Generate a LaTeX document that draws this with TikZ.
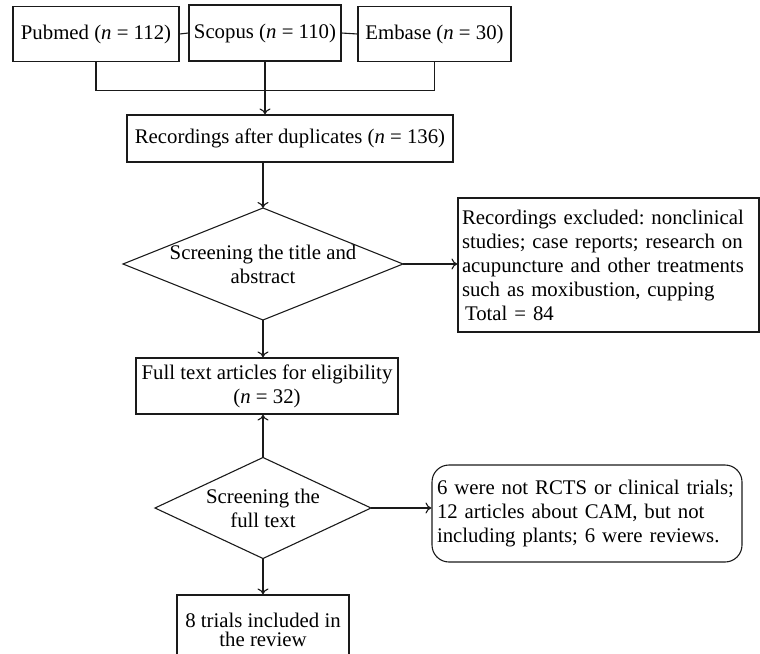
\documentclass[tikz,border=0pt]{standalone}
\usepackage{fontspec}
\setmainfont{Liberation Serif}
\usetikzlibrary{positioning, calc, arrows.meta, shapes.geometric}
\definecolor{Ink}{HTML}{1A1A1A}
\tikzset{
    box/.style={rectangle, draw=Ink, line width=1.1pt, align=center, inner sep=0pt, font=\flowfont},
    notebox/.style={rectangle, draw=Ink, line width=1.1pt, align=left, inner ysep=0pt, inner xsep=4pt, font=\flowfont},
    roundbox/.style={rectangle, rounded corners=17pt, draw=Ink, line width=1.1pt, align=left, inner ysep=0pt, inner xsep=5pt, font=\flowfont},
    decision/.style={diamond, draw=Ink, line width=1.1pt, inner sep=0pt, outer sep=0pt},
    decisiontext/.style={align=center, font=\flowfont, inner sep=0pt},
    arrow/.style={-{To[length=6pt,width=11pt]}, line width=1.1pt, color=Ink},
    link/.style={line width=1.1pt, color=Ink},
}
\newcommand{\flowfont}{\fontsize{20.8}{24}\selectfont\frenchspacing}

\begin{document}
\begin{tikzpicture}[x=1pt, y=-1pt]
    \useasboundingbox (0,0) rectangle (760,653);
    \clip (0,0) rectangle (760,653);

    % Databases
    \node[box, minimum width=166pt, minimum height=55pt] (pubmed) at (96,34) {Pubmed (\textit{n} = 112)};
    \node[box, minimum width=152pt, minimum height=56pt] (scopus) at (265,33) {Scopus (\textit{n} = 110)};
    \node[box, minimum width=153pt, minimum height=55pt] (embase) at (434.5,34) {Embase (\textit{n} = 30)};
    \draw[link] (pubmed.east) -- (scopus.west);
    \draw[link] (scopus.east) -- (embase.west);

    % Records after duplicates
    \node[box, minimum width=326pt, minimum height=47pt] (records) at (290,138.5) {Recordings after duplicates (\textit{n} = 136)};
    \draw[link] (pubmed.south) -- ++(0,28) -| (embase.south);
    \draw[arrow] (scopus.south) -- (scopus.south |- records.north);

    % First screening
    \node[decision, minimum width=280pt, minimum height=112pt,
          label={[decisiontext]center:Screening the title and\\abstract}] (screen1) at (263,264) {};
    \draw[arrow] (records.south -| screen1.north) -- (screen1.north);

    \node[notebox, minimum width=301pt, minimum height=134pt, text width=293pt] (excluded) at (608.5,265)
        {Recordings excluded: nonclinical\\studies; case reports; research on\\acupuncture and other treatments\\such as moxibustion, cupping\\\hspace{3pt}Total = 84};
    \draw[arrow] (screen1.east) -- (screen1.east -| excluded.west);

    % Full text
    \node[box, minimum width=262pt, minimum height=56pt] (fulltext) at (267,386) {Full text articles for eligibility\\(\textit{n} = 32)};
    \draw[arrow] (screen1.south) -- (screen1.south |- fulltext.north);

    % Second screening
    \node[decision, minimum width=216pt, minimum height=101pt,
          label={[decisiontext]center:Screening the\\full text}] (screen2) at (263,508) {};
    \draw[arrow] (screen2.north) -- (screen2.north |- fulltext.south);

    \node[roundbox, minimum width=310pt, minimum height=97pt, text width=300pt] (notrct) at (587,513.5)
        {6 were not RCTS or clinical trials;\\12 articles about CAM, but not\\including plants; 6 were reviews.};
    \draw[arrow] (screen2.east) -- (screen2.east -| notrct.west);

    % Included
    \node[box, minimum width=172pt, minimum height=90pt, text depth=20pt,
          font=\fontsize{20.8}{19}\selectfont] (included) at (263,640) {8 trials included in\\the review};
    \draw[arrow] (screen2.south) -- (included.north);
\end{tikzpicture}
\end{document}
